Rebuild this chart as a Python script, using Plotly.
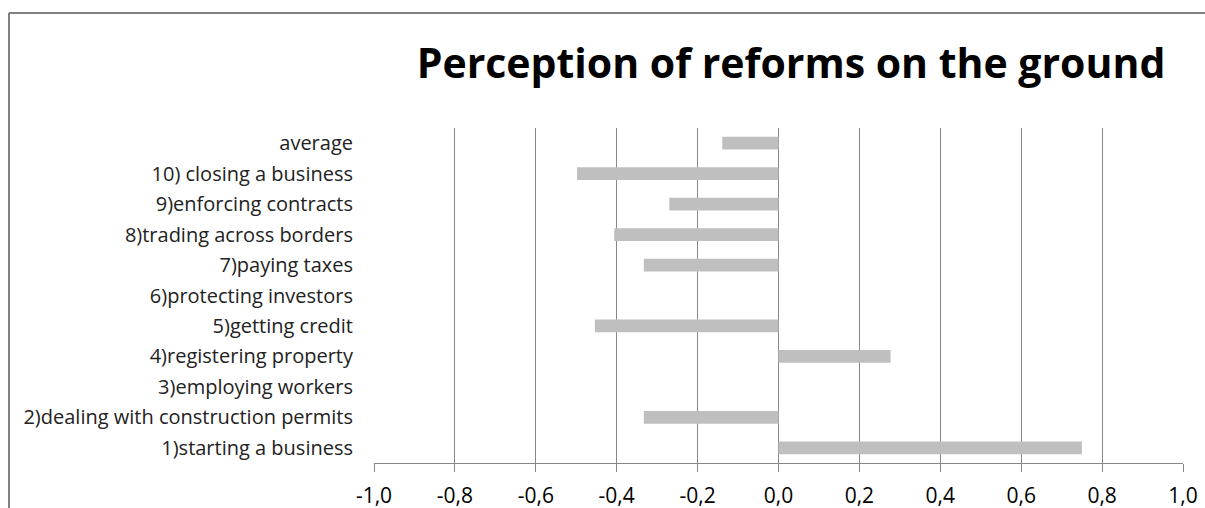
import plotly.graph_objects as go

categories = [
    "1)starting a business",
    "2)dealing with construction permits",
    "3)employing workers",
    "4)registering property",
    "5)getting credit",
    "6)protecting investors",
    "7)paying taxes",
    "8)trading across borders",
    "9)enforcing contracts",
    "10) closing a business",
    "average",
]
values = [0.75, -0.333, 0.0, 0.277, -0.454, 0.0, -0.333, -0.406, -0.27, -0.498, -0.139]

x_tickvals = [-1.0, -0.8, -0.6, -0.4, -0.2, 0.0, 0.2, 0.4, 0.6, 0.8, 1.0]
x_ticktext = ["-1,0", "-0,8", "-0,6", "-0,4", "-0,2", "0,0", "0,2", "0,4", "0,6", "0,8", "1,0"]

W, H = 1205, 508
L, R, T, B = 374, 22, 128, 45
GRAY = "#888888"
BAR = "#bfbfbf"
FONT = "Open Sans"

fig = go.Figure()
fig.add_trace(go.Bar(
    x=values, y=categories, orientation="h",
    marker=dict(color=BAR, line=dict(width=0)),
    hoverinfo="x+y", showlegend=False,
))

n = len(categories)
boundaries = [i - 0.5 for i in range(n + 1)]

fig.update_layout(
    width=W, height=H,
    margin=dict(l=L, r=R, t=T, b=B, autoexpand=False),
    paper_bgcolor="white", plot_bgcolor="white",
    bargap=0.58,
    title=dict(
        text="<b>Perception of reforms on the ground</b>",
        font=dict(family=FONT, size=41, color="black"),
        xref="container", yref="container",
        x=791 / W, xanchor="center",
        y=1 - 64 / H, yanchor="middle",
    ),
    xaxis=dict(
        range=[-1, 1], tickvals=x_tickvals, ticktext=x_ticktext,
        showgrid=True, gridcolor=GRAY, gridwidth=1,
        zeroline=False,
        showline=True, linecolor=GRAY, linewidth=1,
        ticks="outside", ticklen=8, tickcolor=GRAY,
        ticklabelstandoff=6,
        tickfont=dict(family=FONT, size=21, color="black"),
        fixedrange=True,
    ),
    yaxis=dict(
        type="category", categoryorder="array", categoryarray=categories,
        range=[-0.5, n - 0.5],
        showgrid=False, zeroline=False, showline=False, ticks="",
        ticklabelstandoff=20,
        tickfont=dict(family=FONT, size=20, color="#222222"),
        fixedrange=True,
    ),
    yaxis2=dict(
        overlaying="y", anchor="free", position=0.5, side="left",
        range=[-0.5, n - 0.5], tickvals=boundaries,
        ticks="outside", ticklen=6, tickcolor=GRAY,
        showticklabels=False, showgrid=False, zeroline=False,
        showline=True, linecolor=GRAY, linewidth=1,
        fixedrange=True,
    ),
)

# outer chart border (top and left edges visible in the reference crop)
pw = W - L - R
ph = H - T - B
def px_to_paper_x(px):
    return (px - L) / pw
def py_to_paper_y(py):
    return (H - B - py) / ph

fig.add_shape(type="line", xref="paper", yref="paper",
              x0=px_to_paper_x(9), x1=px_to_paper_x(W + 5),
              y0=py_to_paper_y(13), y1=py_to_paper_y(13),
              line=dict(color="#808080", width=2), layer="above")
fig.add_shape(type="line", xref="paper", yref="paper",
              x0=px_to_paper_x(9), x1=px_to_paper_x(9),
              y0=py_to_paper_y(13), y1=py_to_paper_y(H + 5),
              line=dict(color="#808080", width=2), layer="above")

fig.write_html(
    "out.html",
    config={"displayModeBar": False},
    post_script="document.body.style.margin='0';document.body.style.overflow='hidden';",
)
